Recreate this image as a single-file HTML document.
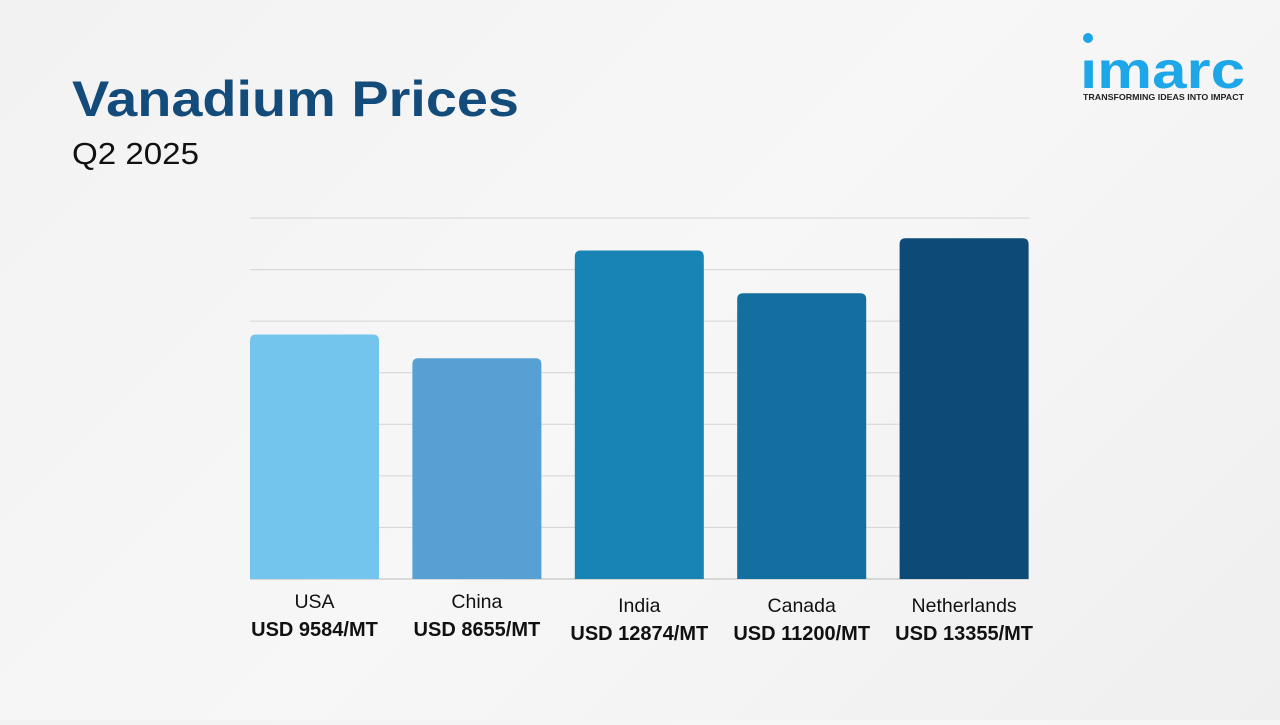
<!DOCTYPE html>
<html><head><meta charset="utf-8"><style>
body{margin:0;width:1280px;height:720px;overflow:hidden;background:linear-gradient(135deg,#f2f2f2,#f7f7f7 50%,#efefef);font-family:"Liberation Sans",sans-serif}
</style></head><body>
<svg width="1280" height="720">
<text x="72" y="116" font-size="50" font-weight="bold" fill="#134c7a" textLength="447" lengthAdjust="spacingAndGlyphs">Vanadium Prices</text>
<text x="72" y="164" font-size="31" fill="#111" textLength="127" lengthAdjust="spacingAndGlyphs">Q2 2025</text>
<g>
<circle cx="1088" cy="38" r="5" fill="#1ea7e8"/>
<text x="1080" y="88" font-size="52" font-weight="bold" fill="#1ea7e8" textLength="165" lengthAdjust="spacingAndGlyphs">ımarc</text>
<text x="1083" y="100" font-size="8.5" font-weight="bold" fill="#222" textLength="161" lengthAdjust="spacingAndGlyphs">TRANSFORMING IDEAS INTO IMPACT</text>
</g>
<g id="grid"></g><g id="bars"></g><g id="labels"></g>
</svg>
<script>
const categories=["USA","China","India","Canada","Netherlands"];
const values=[9584,8655,12874,11200,13355];
const valueLabels=["USD 9584/MT","USD 8655/MT","USD 12874/MT","USD 11200/MT","USD 13355/MT"];
const gridTicks=[0,2000,4000,6000,8000,10000,12000,14000];
const colors=["#74c5ee","#56a0d3","#1784b5","#136fa0","#0d4a78"];
const NS="http://www.w3.org/2000/svg";
const x0=250,x1=1029,yBase=579,yTop=218,yMax=14150;
const y=v=>yBase-(v/yMax)*(yBase-yTop);
const gy=t=>yBase-(t/14000)*(yBase-yTop);
const step=(x1-x0+33)/categories.length,bw=129;
const xb=i=>x0+i*step;
const g=document.getElementById('grid');
gridTicks.forEach(t=>{const l=document.createElementNS(NS,'line');
l.setAttribute('x1',x0);l.setAttribute('x2',x1);l.setAttribute('y1',gy(t));l.setAttribute('y2',gy(t));
l.setAttribute('stroke',t===0?'#bbb':'#d4d4d4');l.setAttribute('stroke-width','1');


g.appendChild(l);});
const b=document.getElementById('bars'),lb=document.getElementById('labels');
values.forEach((v,i)=>{const x=xb(i),yt=y(v),r=6;
const p=document.createElementNS(NS,'path');
p.setAttribute('d',`M${x},${yBase}V${yt+r}Q${x},${yt} ${x+r},${yt}H${x+bw-r}Q${x+bw},${yt} ${x+bw},${yt+r}V${yBase}Z`);
p.setAttribute('fill',colors[i]);


b.appendChild(p);
const off=i<2?0:4;
const t1=document.createElementNS(NS,'text');t1.setAttribute('x',x+bw/2);t1.setAttribute('y',608+off);
t1.setAttribute('text-anchor','middle');t1.setAttribute('font-size','19.5');t1.setAttribute('fill','#111');t1.textContent=categories[i];


lb.appendChild(t1);
const t2=document.createElementNS(NS,'text');t2.setAttribute('x',x+bw/2);t2.setAttribute('y',636+off);
t2.setAttribute('text-anchor','middle');t2.setAttribute('font-size','20');t2.setAttribute('font-weight','bold');t2.setAttribute('fill','#111');t2.textContent=valueLabels[i];


lb.appendChild(t2);});
</script>
</body></html>
